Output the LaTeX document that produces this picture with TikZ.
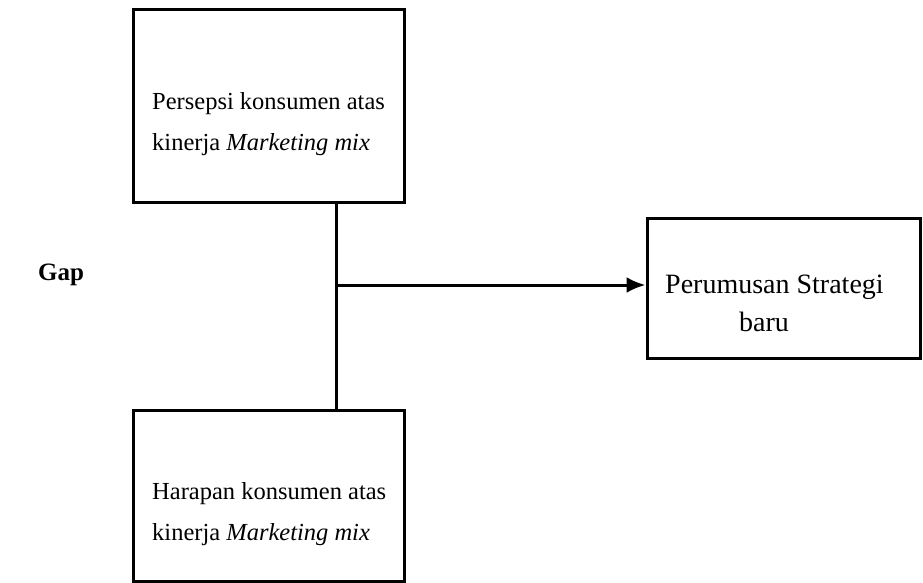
\documentclass[tikz,border=0pt]{standalone}
\usepackage{fontspec}
\setmainfont{Liberation Serif}
\usetikzlibrary{positioning, arrows.meta}

\begin{document}
\begin{tikzpicture}[
    x=1pt, y=-1pt,
    box/.style={draw, line width=3pt, inner sep=0pt},
    txt/.style={align=left, inner sep=0pt, anchor=west, font=\fontsize{24.5}{41}\selectfont},
    connect/.style={line width=3pt},
    arrow/.style={connect, -{Latex[length=19pt, width=16pt]}}
]
    \useasboundingbox (0,0) rectangle (923,583);

    % --- BOXES ---
    \node[box, minimum width=271pt, minimum height=192pt] (persepsi) at (268.5,106) {};
    \node[box, minimum width=271pt, minimum height=171pt] (harapan) at (268.5,495.5) {};
    \node[box, minimum width=273pt, minimum height=140pt] (strategi) at (783.5,288) {};

    % --- BOX TEXTS ---
    \node[txt] (persepsi-txt) at (152,124) {Persepsi konsumen atas\\kinerja \textit{Marketing mix}};
    \node[txt] (harapan-txt) at (152,514) {Harapan konsumen atas\\kinerja \textit{Marketing mix}};
    \node[txt, font=\fontsize{28}{38}\selectfont] (strategi-txt) at (665,303) {Perumusan Strategi\\\hspace*{74pt}baru};

    \node[anchor=west, inner sep=0pt, font=\fontsize{25}{28}\selectfont\bfseries] (gap) at (38,275) {Gap};

    % --- CONNECTIONS ---
    \coordinate (junc) at (336,285);
    \draw[connect] (junc |- persepsi.south) -- (junc |- harapan.north);
    \draw[arrow] (junc) -- (strategi.west |- junc);

\end{tikzpicture}
\end{document}
